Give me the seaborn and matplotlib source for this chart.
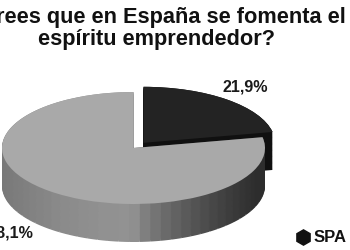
import numpy as np
import matplotlib
matplotlib.use("Agg")
import matplotlib.pyplot as plt
import seaborn as sns
from matplotlib.lines import Line2D

# ---- data ----
categories = ["Sí", "No"]
values = [21.9, 78.1]
legend_labels = ["SPA"]
title_lines = ["¿Crees que en España se fomenta el", "espíritu emprendedor?"]

sns.set_theme(style="white")
plt.rcParams['font.family'] = ['Liberation Sans', 'DejaVu Sans']

W, H = 350, 250
fig = plt.figure(figsize=(W / 100, H / 100), dpi=100)
ax = fig.add_axes([0, 0, 1, 1])

# layout in pixels
cx, cy = 133.5, 148.0
rx, ry = 131.5, 56.0
depth_px = 38.0
xlim = (-cx / rx, (W - cx) / rx)
ylim = (-(H - cy) / ry, cy / ry)
depth = depth_px / ry

top_colors = ["#232323", "#a9a9a9"]
dark_side = "#101010"
explode_e = 0.12

# side sub-slices for gradient shading of the grey part
K = 60
start = 90.0
dark_span = values[0] / sum(values) * 360.0
sub_vals = [values[0]] + [values[1] / K] * K
side_cols = [dark_side]
for i in range(K):
    theta = np.deg2rad(start - dark_span - (i + 0.5) * (360.0 - dark_span) / K)
    c = np.cos(theta)
    if c < 0:
        b = 146 - 26 * c * c
    else:
        b = 146 - 105 * c ** 0.7
    b = max(min(b, 255), 45) / 255.0
    side_cols.append((b, b, b))
side_explode = [explode_e] + [0] * K

wedge_kw = dict(linewidth=0, edgecolor="none", antialiased=True)
layers = np.linspace(depth, 0.0, 45)
for d in layers:
    ax.pie(sub_vals, colors=side_cols, startangle=start, counterclock=False,
           explode=side_explode, center=(0, -d), radius=1.0,
           wedgeprops=wedge_kw)

# top faces
ax.pie(values, colors=top_colors, startangle=start, counterclock=False,
       explode=[explode_e, 0], center=(0, 0), radius=1.0,
       wedgeprops=wedge_kw)

ax.set_aspect('auto')
ax.set_xlim(*xlim)
ax.set_ylim(*ylim)
ax.axis('off')

def fmt(v):
    return f"{v:.1f}".replace('.', ',') + '%'

# value labels
fig.text(245 / W, 1 - 87 / H, fmt(values[0]), ha='center', va='center',
         fontsize=11.6, fontweight='bold', color='#1a1a1a')
fig.text(10 / W, 1 - 233 / H, fmt(values[1]), ha='center', va='center',
         fontsize=11.6, fontweight='bold', color='#1a1a1a')

# title
fig.text(156 / W, 1 - 17 / H, title_lines[0], ha='center', va='center',
         fontsize=15.7, fontweight='bold', color='#111111')
fig.text(156 / W, 1 - 40 / H, title_lines[1], ha='center', va='center',
         fontsize=15.7, fontweight='bold', color='#111111')

# legend
handle = Line2D([], [], marker='h', linestyle='none', color='#111111',
                markersize=11)
leg = fig.legend([handle], legend_labels, loc='center left',
                 bbox_to_anchor=(296 / W, 1 - 238 / H), frameon=False,
                 handlelength=0.8, handletextpad=0.25, borderpad=0,
                 borderaxespad=0,
                 prop={'weight': 'bold', 'size': 12, 'family': 'Liberation Sans'})
for t in leg.get_texts():
    t.set_color('#111111')

fig.savefig("out.png", dpi=100)
